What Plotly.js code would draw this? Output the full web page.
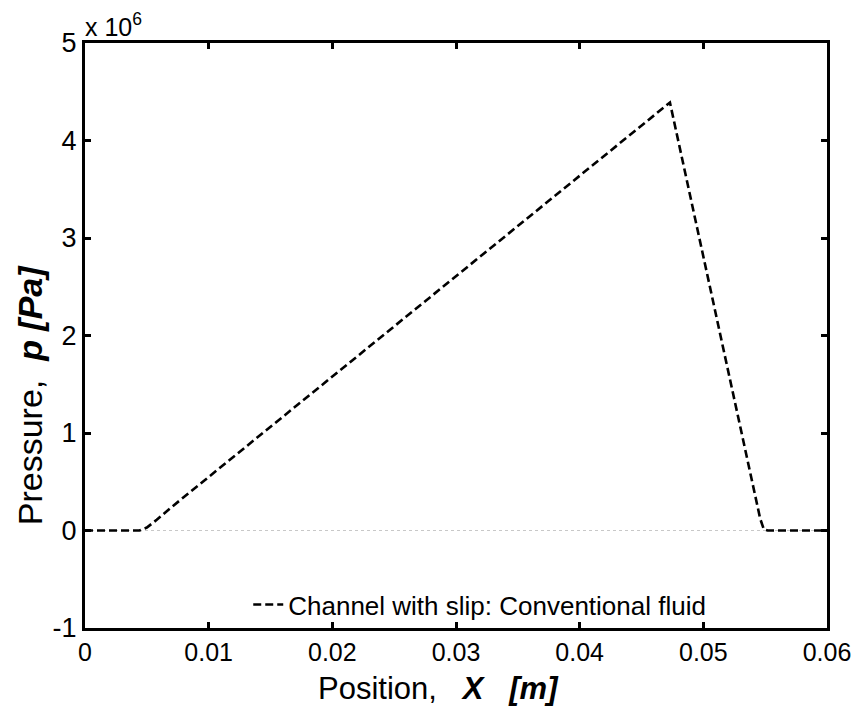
<!DOCTYPE html>
<html>
<head>
<meta charset="utf-8">
<script src="https://cdn.plot.ly/plotly-3.0.1.min.js"></script>
<style>html,body{margin:0;padding:0;background:#fff;}#chart{width:857px;height:706px;}</style>
</head>
<body>
<div id="chart"></div>
<script>
// Position X [m]
const positionX = [0, 0.0044, 0.0050, 0.0058, 0.0070, 0.0473, 0.0546, 0.0549, 0.0552, 0.06];
// Pressure p [Pa]
const pressure = [0, 0, 0.03e6, 0.11e6, 0.24e6, 4.39e6, 0.12e6, 0.01e6, 0, 0];
const seriesName = 'Channel with slip: Conventional fluid';
const xTickVals = [0, 0.01, 0.02, 0.03, 0.04, 0.05, 0.06];
const xTickText = ['0', '0.01', '0.02', '0.03', '0.04', '0.05', '0.06'];
const yTickVals = [-1e6, 0, 1e6, 2e6, 3e6, 4e6, 5e6];
const yTickText = ['-1', '0', '1', '2', '3', '4', '5'];
const xTitle = 'Position,&nbsp;&nbsp;&nbsp;<b><i>X&nbsp;&nbsp;&nbsp;[m]</i></b>';
const yTitle = 'Pressure,&nbsp;&nbsp;<b><i>p [Pa]</i></b>';

const font = 'Liberation Sans, Arial, sans-serif';

const trace = {
  x: positionX, y: pressure, type: 'scatter', mode: 'lines', name: seriesName,
  line: {color: '#000', width: 2.6, dash: '8px,4px'},
  showlegend: true
};

const layout = {
  width: 857, height: 706,
  margin: {l: 85, r: 30, t: 43, b: 78},
  paper_bgcolor: '#fff', plot_bgcolor: '#fff',
  font: {family: font, color: '#000', size: 22},
  showlegend: true,
  legend: {x: 0.22, y: 0.04, xanchor: 'left', yanchor: 'middle', bgcolor: 'rgba(0,0,0,0)',
           borderwidth: 0, font: {size: 26, family: font}},
  xaxis: {
    range: [0, 0.06], tickvals: xTickVals, ticktext: xTickText,
    showline: true, linewidth: 3, linecolor: '#000', mirror: 'ticks',
    ticks: 'inside', ticklen: 6, tickwidth: 3, tickcolor: '#000',
    showgrid: false, zeroline: false, automargin: false,
    tickfont: {size: 25, family: font}
  },
  yaxis: {
    range: [-1e6, 5e6], tickvals: yTickVals, ticktext: yTickText,
    showline: true, linewidth: 3, linecolor: '#000', mirror: 'ticks',
    ticks: 'inside', ticklen: 6, tickwidth: 3, tickcolor: '#000',
    showgrid: false, zeroline: false, automargin: false,
    tickfont: {size: 27, family: font}
  },
  shapes: [{type: 'line', xref: 'paper', x0: 0, x1: 1, yref: 'y', y0: 0, y1: 0,
            line: {color: '#c8c8c8', width: 1, dash: 'dot'}, layer: 'below'}],
  annotations: [
    {xref: 'paper', yref: 'paper', x: -0.003, y: 1.0, xanchor: 'left', yanchor: 'bottom',
     text: 'x 10<sup>6</sup>', showarrow: false, font: {size: 25, family: font}},
    {xref: 'paper', yref: 'paper', x: 0.477, y: -0.104, xanchor: 'center', yanchor: 'middle',
     text: xTitle, showarrow: false, font: {size: 31, family: font}},
    {xref: 'paper', yref: 'paper', x: -0.074, y: 0.398, xanchor: 'center', yanchor: 'middle',
     textangle: -90, text: yTitle, showarrow: false, font: {size: 34, family: font}}
  ]
};

Plotly.newPlot('chart', [trace], layout, {displayModeBar: false, staticPlot: true});
</script>
</body>
</html>
